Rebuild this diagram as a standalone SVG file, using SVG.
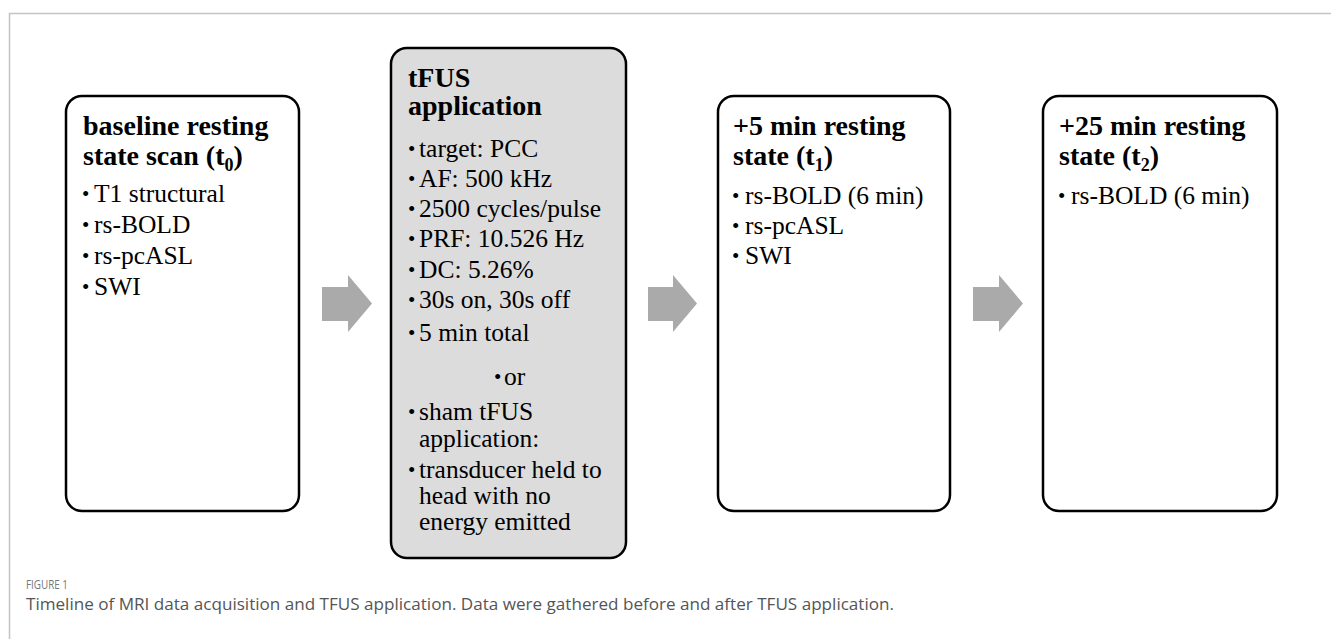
<svg xmlns="http://www.w3.org/2000/svg" width="1331" height="639" viewBox="0 0 1331 639">
  <style>
    .frame { stroke: #c4c4c4; stroke-width: 1.5; fill: none; }
    .box { stroke: #000; stroke-width: 2.5; fill: #fff; }
    .box.grey { fill: #dcdcdc; }
    .arrow { fill: #aaaaaa; }
    .title { font-family: "Liberation Serif", "Times New Roman", serif; font-weight: bold; font-size: 28px; fill: #000; }
    .item { font-family: "Liberation Serif", "Times New Roman", serif; font-size: 25.5px; fill: #000; }
    .dot { font-family: "Liberation Serif", "Times New Roman", serif; font-size: 21px; fill: #000; }
    .sub { font-size: 18px; }
    .fig { font-family: "Open Sans", "Noto Sans", sans-serif; font-size: 13px; fill: #777; }
    .cap { font-family: "Open Sans", "Noto Sans", sans-serif; font-size: 17px; fill: #555; }
  </style>

  <!-- page frame -->
  <path class="frame" d="M9.5 639 V13.5 H1331"/>

  <!-- step 1: baseline scan -->
  <g id="baseline">
    <rect class="box" x="66" y="96" width="233" height="415" rx="16"/>
    <text class="title" x="83" y="135">baseline resting</text>
    <text class="title" x="83" y="165">state scan (t<tspan class="sub" dy="6">0</tspan><tspan dy="-6">)</tspan></text>
    <text class="dot" x="82" y="201">•</text><text class="item" x="94" y="202">T1 structural</text>
    <text class="dot" x="82" y="232">•</text><text class="item" x="94" y="233">rs-BOLD</text>
    <text class="dot" x="82" y="263">•</text><text class="item" x="94" y="264">rs-pcASL</text>
    <text class="dot" x="82" y="294">•</text><text class="item" x="94" y="295">SWI</text>
  </g>

  <!-- step 2: tFUS application -->
  <g id="tfus">
    <rect class="box grey" x="391" y="48" width="235" height="510" rx="16"/>
    <text class="title" x="408" y="87">tFUS</text>
    <text class="title" x="408" y="115">application</text>
    <text class="dot" x="408" y="156">•</text><text class="item" x="419" y="157">target: PCC</text>
    <text class="dot" x="408" y="186">•</text><text class="item" x="419" y="187">AF: 500 kHz</text>
    <text class="dot" x="408" y="216">•</text><text class="item" x="419" y="217">2500 cycles/pulse</text>
    <text class="dot" x="408" y="246">•</text><text class="item" x="419" y="247">PRF: 10.526 Hz</text>
    <text class="dot" x="408" y="277">•</text><text class="item" x="419" y="278">DC: 5.26%</text>
    <text class="dot" x="408" y="307">•</text><text class="item" x="419" y="308">30s on, 30s off</text>
    <text class="dot" x="408" y="340">•</text><text class="item" x="419" y="341">5 min total</text>
    <text class="dot" x="494" y="384">•</text><text class="item" x="504" y="385">or</text>
    <text class="dot" x="408" y="419">•</text><text class="item" x="419" y="420">sham tFUS</text>
    <text class="item" x="419" y="447">application:</text>
    <text class="dot" x="408" y="477">•</text><text class="item" x="419" y="478">transducer held to</text>
    <text class="item" x="419" y="504">head with no</text>
    <text class="item" x="419" y="530">energy emitted</text>
  </g>

  <!-- step 3: +5 min resting state -->
  <g id="rest5">
    <rect class="box" x="718" y="96" width="232" height="415" rx="16"/>
    <text class="title" x="733" y="135">+5 min resting</text>
    <text class="title" x="733" y="165">state (t<tspan class="sub" dy="6">1</tspan><tspan dy="-6">)</tspan></text>
    <text class="dot" x="732" y="203">•</text><text class="item" x="745" y="204">rs-BOLD (6 min)</text>
    <text class="dot" x="732" y="233">•</text><text class="item" x="745" y="234">rs-pcASL</text>
    <text class="dot" x="732" y="263">•</text><text class="item" x="745" y="264">SWI</text>
  </g>

  <!-- step 4: +25 min resting state -->
  <g id="rest25">
    <rect class="box" x="1043" y="96" width="234" height="415" rx="16"/>
    <text class="title" x="1059" y="135">+25 min resting</text>
    <text class="title" x="1059" y="165">state (t<tspan class="sub" dy="6">2</tspan><tspan dy="-6">)</tspan></text>
    <text class="dot" x="1058" y="203">•</text><text class="item" x="1071" y="204">rs-BOLD (6 min)</text>
  </g>

  <!-- block arrows between steps -->
  <g id="connectors">
    <polygon class="arrow" points="322,287 348,287 348,275 372,303.5 348,332 348,321 322,321"/>
    <polygon class="arrow" points="648,287 673,287 673,275 697,303.5 673,332 673,321 648,321"/>
    <polygon class="arrow" points="973,287 999,287 999,275 1023,303.5 999,332 999,321 973,321"/>
  </g>

  <!-- caption -->
  <text class="fig" x="26" y="589" textLength="42" lengthAdjust="spacingAndGlyphs">FIGURE 1</text>
  <text class="cap" x="26" y="610" textLength="868" lengthAdjust="spacingAndGlyphs">Timeline of MRI data acquisition and TFUS application. Data were gathered before and after TFUS application.</text>
</svg>
